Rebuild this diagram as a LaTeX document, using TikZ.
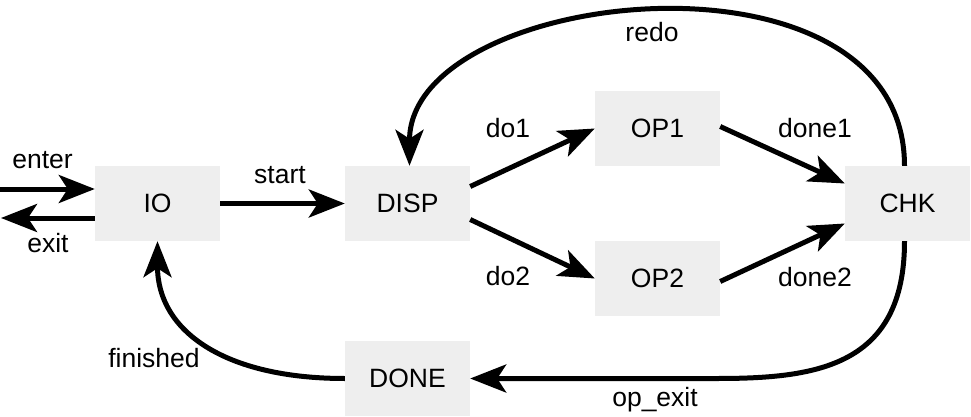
\documentclass[tikz,border=0pt]{standalone}
\usepackage{fontspec}
\setmainfont{Liberation Sans}
\usetikzlibrary{arrows.meta,calc}
\definecolor{boxgray}{RGB}{238,238,238}
\tikzset{
  state/.style={fill=boxgray, draw=none, minimum width=125pt, minimum height=75pt, inner sep=0pt, font=\fontsize{26.5pt}{30pt}\selectfont},
  lbl/.style={anchor=base, inner sep=0pt, font=\fontsize{26.5pt}{30pt}\selectfont},
  conn/.style={line width=5pt, -{Stealth[length=36pt,width=28pt,inset=9pt]}}
}
\begin{document}
\begin{tikzpicture}[x=1pt,y=-1pt]
\useasboundingbox (0,0) rectangle (971,417);
\node[state] (IO)   at (157.5,203.5) {IO};
\node[state] (DISP) at (407.5,203.5) {DISP};
\node[state] (OP1)  at (657.5,128.5) {OP1};
\node[state] (OP2)  at (657.5,278.5) {OP2};
\node[state] (CHK)  at (907.5,203.5) {CHK};
\node[state] (DONE) at (407.5,378.5) {DONE};

\coordinate (inpt) at (0,189);
\coordinate (outpt) at (1,218);
\coordinate (opbend) at (717,378.5);

\draw[conn] (inpt) -- (inpt -| IO.west);
\draw[conn] (outpt -| IO.west) -- (outpt);
\draw[conn] (IO.east) -- (DISP.west);
\draw[conn] ([yshift=17pt]DISP.east) -- (OP1.west);
\draw[conn] ([yshift=-16pt]DISP.east) -- (OP2.west);
\draw[conn] ([yshift=2pt]OP1.east) -- ([yshift=20pt]CHK.west);
\draw[conn] ([yshift=-3pt]OP2.east) -- ([yshift=-20pt]CHK.west);
\draw[conn] ([xshift=-3pt]CHK.north) .. controls +(0,-232) and +(0,-179) .. ([xshift=2pt]DISP.north);
\draw[conn] ([xshift=-3pt]CHK.south) .. controls +(0,125) and +(100,0) .. (opbend) -- (DONE.east);
\draw[conn] (DONE.west) .. controls +(-120,0) and +(0,90) .. (IO.south);

\node[lbl] (Lenter) at (42.5,168) {enter};
\node[lbl] (Lexit) at (48,252) {exit};
\node[lbl] (Lstart) at (280,183) {start};
\node[lbl] (Ldo1) at (508,138) {do1};
\node[lbl] (Ldo2) at (508,285) {do2};
\node[lbl] (Ldone1) at (815,138) {done1};
\node[lbl] (Ldone2) at (815,286) {done2};
\node[lbl] (Lredo) at (652,42) {redo};
\node[lbl] (Lfin) at (154,367) {finished};
\node[lbl] (Lop) at (655,406) {op\_exit};
\end{tikzpicture}
\end{document}
